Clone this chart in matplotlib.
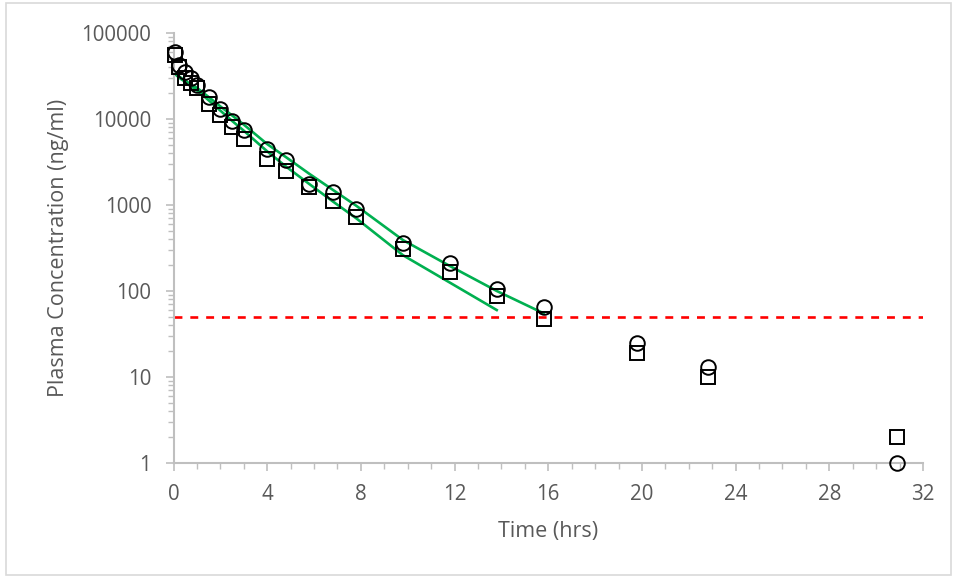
import numpy as np
import matplotlib.pyplot as plt
from matplotlib.patches import Rectangle
from matplotlib.ticker import FixedLocator, MultipleLocator, NullFormatter

plt.rcParams['font.family'] = ['Open Sans', 'DejaVu Sans']

# Observed data (hrs, ng/ml)
t_obs = [0.08, 0.25, 0.5, 0.75, 1.0, 1.5, 2.0, 2.5, 3.0, 4.0, 4.8, 5.8, 6.8,
         7.8, 9.8, 11.8, 13.8, 15.8, 19.8, 22.8, 30.9]
circles = [60000, 42000, 35000, 30000, 25000, 18000, 13000, 9500, 7500, 4500,
           3300, 1750, 1400, 900, 360, 210, 105, 65, 25, 13, 1]
squares = [55000, 40000, 30000, 26000, 23000, 15000, 11000, 8000, 5800, 3400,
           2500, 1600, 1100, 720, 310, 165, 88, 47, 19, 10, 2]

# Model fits
t_fit_upper = [0.08, 0.25, 0.5, 0.75, 1.0, 1.5, 2.0, 2.5, 3.0, 4.0, 4.8, 5.8,
               6.8, 7.8, 9.8, 11.8, 13.8, 15.8]
fit_upper = [34000, 31000, 28000, 25000, 23000, 18000, 14000, 11000, 8600,
             5100, 3600, 2300, 1500, 980, 390, 195, 100, 55]
t_fit_lower = [0.08, 0.25, 0.5, 0.75, 1.0, 1.5, 2.0, 2.5, 3.0, 4.0, 4.8, 5.8,
               6.8, 7.8, 9.8, 11.8, 13.8]
fit_lower = [33000, 30000, 27000, 24000, 21500, 16500, 12500, 9500, 7300,
             4200, 2800, 1750, 1100, 700, 260, 125, 60]

lloq = 50

fig = plt.figure(figsize=(9.57, 5.78), dpi=100)
ax = fig.add_axes([0.1813, 0.199, 0.7832, 0.744])

green = '#00B050'
ax.plot(t_fit_upper, fit_upper, color=green, lw=1.9, zorder=2)
ax.plot(t_fit_lower, fit_lower, color=green, lw=1.9, zorder=2)
ax.axhline(lloq, color='#FF0000', lw=1.9, ls=(0, (3, 3)), zorder=1)

ax.plot(t_obs, squares, ls='none', marker='s', ms=10, mfc='none',
        mec='black', mew=1.4, zorder=3, clip_on=False)
ax.plot(t_obs, circles, ls='none', marker='o', ms=10.5, mfc='none',
        mec='black', mew=1.4, zorder=4, clip_on=False)

ax.set_yscale('log')
ax.set_ylim(1, 100000)
ax.set_xlim(0, 32)

yt = [1, 10, 100, 1000, 10000, 100000]
ax.yaxis.set_major_locator(FixedLocator(yt))
ax.set_yticklabels([str(v) for v in yt])
ax.yaxis.set_minor_formatter(NullFormatter())
ax.xaxis.set_major_locator(MultipleLocator(4))
ax.xaxis.set_minor_locator(MultipleLocator(1))

axis_col = '#BFBFBF'
for s in ['top', 'right']:
    ax.spines[s].set_visible(False)
for s in ['left', 'bottom']:
    ax.spines[s].set_color(axis_col)
    ax.spines[s].set_linewidth(1.5)

ax.tick_params(which='both', colors=axis_col, labelcolor='#595959',
               labelsize=14.8, direction='out')
ax.tick_params(which='major', length=6, width=1.2)
ax.tick_params(which='minor', length=4, width=1.0)
ax.tick_params(axis='x', pad=9)
ax.tick_params(axis='y', pad=10)

ax.set_xlabel('Time (hrs)', fontsize=15.5, color='#595959', labelpad=12)
ax.set_ylabel('Plasma Concentration (ng/ml)', fontsize=15.5, color='#595959',
              labelpad=9)

# light chart border
fig.patches.append(Rectangle((0.006, 0.005), 0.988, 0.99, transform=fig.transFigure,
                             fill=False, edgecolor='#D9D9D9', lw=1.2))

plt.savefig('out.png', dpi=100)
plt.close()
